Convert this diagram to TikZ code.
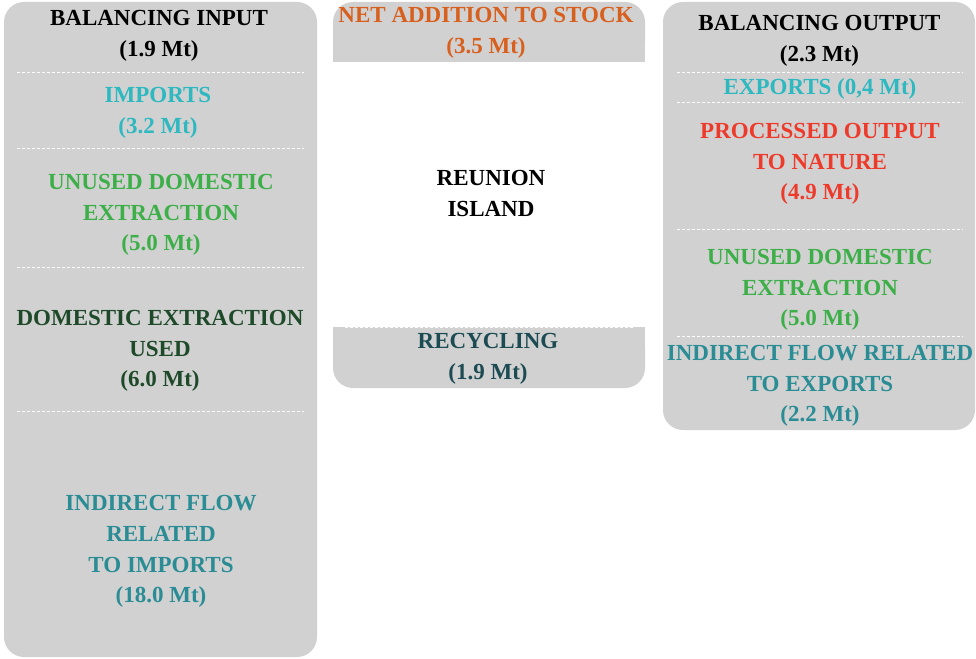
\documentclass[tikz,border=0pt]{standalone}
\usepackage{fontspec}
\setmainfont{Liberation Serif}
\definecolor{boxgray}{RGB}{209,209,209}
\definecolor{cblack}{RGB}{0,0,0}
\definecolor{ccyan}{RGB}{46,184,192}
\definecolor{cgreen}{RGB}{60,175,72}
\definecolor{cdkgreen}{RGB}{30,74,42}
\definecolor{cteal}{RGB}{42,140,148}
\definecolor{corange}{RGB}{216,96,30}
\definecolor{crecyc}{RGB}{29,75,83}
\definecolor{cred}{RGB}{238,58,42}
\begin{document}
\begin{tikzpicture}[x=1pt,y=-1pt,
  panel/.style={fill=boxgray,rounded corners=20pt},
  flat/.style={fill=boxgray},
  sep/.style={draw=white,line width=0.9pt,dash pattern=on 3pt off 2pt},
  lab/.style={inner sep=0pt,align=center,font=\fontsize{23}{30.7}\selectfont\bfseries}]
\useasboundingbox (0,0) rectangle (976,658);
% panels
\fill[panel] (4,2) rectangle (317,657);
\fill[panel] (333,2) rectangle (645,62);
\fill[flat] (333,30) rectangle (645,62);
\fill[panel] (333,327) rectangle (645,388);
\fill[flat] (333,327) rectangle (645,360);
\fill[panel] (663,2) rectangle (975,430);
% separators
\coordinate (l1a) at (17,72);  \coordinate (l1b) at (304,72);
\coordinate (l2a) at (17,148); \coordinate (l2b) at (304,148);
\coordinate (l3a) at (17,267); \coordinate (l3b) at (304,267);
\coordinate (l4a) at (17,411); \coordinate (l4b) at (304,411);
\draw[sep] (l1a) -- (l1b);
\draw[sep] (l2a) -- (l2b);
\draw[sep] (l3a) -- (l3b);
\draw[sep] (l4a) -- (l4b);
\coordinate (m1a) at (345,62);  \coordinate (m1b) at (633,62);
\coordinate (m2a) at (345,327); \coordinate (m2b) at (633,327);
\draw[sep] (m1a) -- (m1b);
\draw[sep] (m2a) -- (m2b);
\coordinate (r1a) at (677,72);  \coordinate (r1b) at (963,72);
\coordinate (r2a) at (677,102); \coordinate (r2b) at (963,102);
\coordinate (r3a) at (677,229); \coordinate (r3b) at (963,229);
\coordinate (r4a) at (677,336); \coordinate (r4b) at (963,336);
\draw[sep] (r1a) -- (r1b);
\draw[sep] (r2a) -- (r2b);
\draw[sep] (r3a) -- (r3b);
\draw[sep] (r4a) -- (r4b);
% left column
\node[lab,text=cblack] (balin) at (159,36) {BALANCING INPUT\\(1.9 Mt)};
\node[lab,text=ccyan] (imports) at (158,113) {IMPORTS\\(3.2 Mt)};
\node[lab,text=cgreen] (unusedin) at (161,215) {UNUSED DOMESTIC\\EXTRACTION\\(5.0 Mt)};
\node[lab,text=cdkgreen] (deu) at (160,351) {DOMESTIC EXTRACTION\\USED\\(6.0 Mt)};
\node[lab,text=cteal] (indimp) at (161,551.5) {INDIRECT FLOW\\RELATED\\TO IMPORTS\\(18.0 Mt)};
% middle column
\node[lab,text=corange] (stock) at (486,32.5) {NET ADDITION TO STOCK\\(3.5 Mt)};
\node[lab,text=cblack] (island) at (491,193.5) {REUNION\\ISLAND};
\node[lab,text=crecyc] (recyc) at (488,358.5) {RECYCLING\\(1.9 Mt)};
% right column
\node[lab,text=cblack] (balout) at (819.5,41) {BALANCING OUTPUT\\(2.3 Mt)};
\node[lab,text=ccyan] (exports) at (820,89) {EXPORTS (0,4 Mt)};
\node[lab,text=cred] (ptn) at (820,164) {PROCESSED OUTPUT\\TO NATURE\\(4.9 Mt)};
\node[lab,text=cgreen] (unusedout) at (820,290) {UNUSED DOMESTIC\\EXTRACTION\\(5.0 Mt)};
\node[lab,text=cteal] (indexp) at (820,386) {INDIRECT FLOW RELATED\\TO EXPORTS\\(2.2 Mt)};
\end{tikzpicture}
\end{document}
